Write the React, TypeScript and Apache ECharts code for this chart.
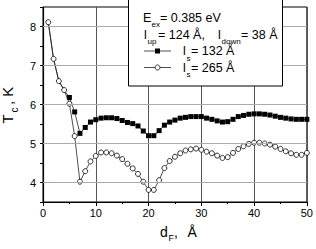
import React, { useEffect, useRef } from 'react';
import * as echarts from 'echarts';

const dF = [1, 2, 3, 4, 5, 6, 7, 8, 9, 10, 11, 12, 13, 14, 15, 16, 17, 18, 19, 20, 21, 22, 23, 24, 25, 26, 27, 28, 29, 30, 31, 32, 33, 34, 35, 36, 37, 38, 39, 40, 41, 42, 43, 44, 45, 46, 47, 48, 49, 50];

// l_s = 265 Å (open circles)
const tcLs265 = [
  8.11, 7.17, 6.60, 6.37, 6.02, 5.19, 4.02, 4.29, 4.54, 4.68,
  4.77, 4.77, 4.75, 4.69, 4.60, 4.48, 4.36, 4.22, 4.02, 3.81,
  3.81, 4.06, 4.37, 4.55, 4.66, 4.75, 4.82, 4.85, 4.87, 4.84,
  4.79, 4.75, 4.69, 4.63, 4.65, 4.76, 4.86, 4.93, 4.99, 5.02,
  5.02, 5.00, 4.97, 4.92, 4.86, 4.80, 4.75, 4.71, 4.71, 4.76,
];

// l_s = 132 Å (filled squares); first points coincide with the other curve
const tcLs132 = [
  8.11, 7.17, 6.60, 6.37, 6.18, 5.81, 5.26, 5.41, 5.55, 5.61,
  5.65, 5.66, 5.66, 5.64, 5.59, 5.54, 5.51, 5.45, 5.32, 5.20,
  5.20, 5.33, 5.47, 5.55, 5.60, 5.65, 5.67, 5.69, 5.69, 5.69,
  5.65, 5.62, 5.58, 5.55, 5.56, 5.62, 5.69, 5.72, 5.75, 5.76,
  5.76, 5.75, 5.73, 5.70, 5.67, 5.65, 5.63, 5.62, 5.62, 5.62,
];
const sharedPoints = 4;

const xTicks = [0, 10, 20, 30, 40, 50];
const yGridValues = [4, 5, 6, 7, 8];
const xGridValues = [10, 20, 30, 40];

const FONT = 'Liberation Sans, Arial, Helvetica, sans-serif';

function txt(text: string, x: number, y: number, size: number, extra: any = {}) {
  return {
    type: 'text',
    x,
    y,
    silent: true,
    z: 20,
    ...extra,
    style: {
      text,
      fontSize: size,
      fontFamily: FONT,
      fill: '#000',
      align: 'left',
      verticalAlign: 'middle',
      ...(extra.style || {}),
    },
  };
}

export default function App() {
  const ref = useRef<HTMLDivElement>(null);

  useEffect(() => {
    if (!ref.current) return;
    const chart = echarts.init(ref.current, null, { renderer: 'svg' });

    const circleData = dF.map((d, i) => [d, tcLs265[i]]);
    const squareData = dF.map((d, i) =>
      i < sharedPoints ? { value: [d, tcLs132[i]], symbol: 'none' } : { value: [d, tcLs132[i]] }
    );

    const rot = Math.PI / 2;

    const option: any = {
      animation: false,
      backgroundColor: '#fff',
      grid: {
        left: 43,
        right: 5,
        top: 7,
        bottom: 47,
        show: true,
        borderColor: '#000',
        borderWidth: 1,
        backgroundColor: 'transparent',
      },
      xAxis: {
        type: 'value',
        min: 0,
        max: 50,
        interval: 10,
        axisLine: { show: true, onZero: false, lineStyle: { color: '#000', width: 1.2 } },
        axisTick: { show: true, length: 4, lineStyle: { color: '#000', width: 1 } },
        minorTick: { show: true, splitNumber: 2, length: 2, lineStyle: { color: '#000', width: 1 } },
        splitLine: { show: true, lineStyle: { color: '#555', width: 1 } },
        minorSplitLine: { show: false },
        axisLabel: {
          show: true,
          fontSize: 11,
          fontFamily: FONT,
          color: '#000',
          margin: 5,
          formatter: (v: number) => (xTicks.includes(v) ? String(v) : ''),
        },
      },
      yAxis: {
        type: 'value',
        min: 3.5,
        max: 8.5,
        interval: 0.5,
        axisLine: { show: true, onZero: false, lineStyle: { color: '#000', width: 1.2 } },
        axisTick: { show: true, length: 3, lineStyle: { color: '#000', width: 1 } },
        splitLine: { show: false },
        axisLabel: {
          show: true,
          fontSize: 11,
          fontFamily: FONT,
          color: '#000',
          margin: 7,
          formatter: (v: number) => (Math.abs(v - Math.round(v)) < 1e-6 ? String(Math.round(v)) : ''),
        },
      },
      series: [
        {
          type: 'line',
          name: 'grid',
          data: [],
          z: 1,
          silent: true,
          markLine: {
            silent: true,
            symbol: ['none', 'none'],
            label: { show: false },
            emphasis: { disabled: true },
            lineStyle: { type: 'solid', color: '#aaa', width: 1 },
            data: yGridValues.map((v) => ({ yAxis: v })),
          },
        },
        {
          type: 'line',
          name: 'ls132',
          data: squareData,
          z: 3,
          symbol: 'rect',
          symbolSize: 5,
          showAllSymbol: true,
          lineStyle: { color: '#222', width: 0.8 },
          itemStyle: { color: '#000', borderWidth: 0 },
          emphasis: { disabled: true },
        },
        {
          type: 'line',
          name: 'ls265',
          data: circleData,
          z: 4,
          symbol: 'circle',
          symbolSize: 5,
          showAllSymbol: true,
          lineStyle: { color: '#222', width: 0.8 },
          itemStyle: { color: '#fff', borderColor: '#000', borderWidth: 0.8 },
          emphasis: { disabled: true },
        },
      ],
      graphic: [
        // legend box
        {
          type: 'rect',
          shape: { x: 128.5, y: -1.5, width: 154, height: 87.5 },
          style: { fill: '#fff', stroke: '#000', lineWidth: 1 },
          z: 15,
          silent: true,
        },
        txt('E', 143, 17.5, 12.5),
        txt('ex', 151.5, 24, 8),
        txt('= 0.385 eV', 160, 17.5, 12.5),
        txt('l', 144, 34.5, 12.5),
        txt('up', 147.5, 41, 8),
        txt('= 124 Å, ', 158, 34.5, 12.5),
        txt('l', 218, 34.5, 12.5),
        txt('down', 221.5, 41, 8),
        txt('= 38 Å', 241, 34.5, 12.5),
        {
          type: 'line',
          shape: { x1: 144, y1: 51, x2: 171, y2: 51 },
          style: { stroke: '#222', lineWidth: 0.8 },
          z: 20,
          silent: true,
        },
        {
          type: 'rect',
          shape: { x: 155, y: 48.5, width: 5, height: 5 },
          style: { fill: '#000' },
          z: 21,
          silent: true,
        },
        txt('l', 183, 51, 12.5),
        txt('s', 186.5, 58, 8),
        txt('= 132 Å', 191, 51, 12.5),
        {
          type: 'line',
          shape: { x1: 144, y1: 67.5, x2: 171, y2: 67.5 },
          style: { stroke: '#222', lineWidth: 0.8 },
          z: 20,
          silent: true,
        },
        {
          type: 'circle',
          shape: { cx: 157.5, cy: 67.5, r: 2.5 },
          style: { fill: '#fff', stroke: '#000', lineWidth: 0.8 },
          z: 21,
          silent: true,
        },
        txt('l', 183, 67.5, 12.5),
        txt('s', 186.5, 74.5, 8),
        txt('= 265 Å', 191, 67.5, 12.5),
        // y axis title
        txt('T', 7.5, 123.5, 15, { rotation: rot }),
        txt('c', 14.5, 112.5, 10, { rotation: rot }),
        txt(', K', 7.5, 105, 15, { rotation: rot }),
        // x axis title
        txt('d', 160, 231.7, 14),
        txt('F', 168.5, 237.5, 9),
        txt(',', 174, 231.7, 14),
        txt('Å', 187.5, 231.7, 14),
      ],
    };

    // vertical grid lines drawn by the x axis split lines; keep xGridValues for reference
    void xGridValues;

    chart.setOption(option);
    return () => chart.dispose();
  }, []);

  return (
    <div
      ref={ref}
      style={{ position: 'fixed', left: 0, top: 0, width: 316, height: 249, background: '#fff' }}
    />
  );
}
